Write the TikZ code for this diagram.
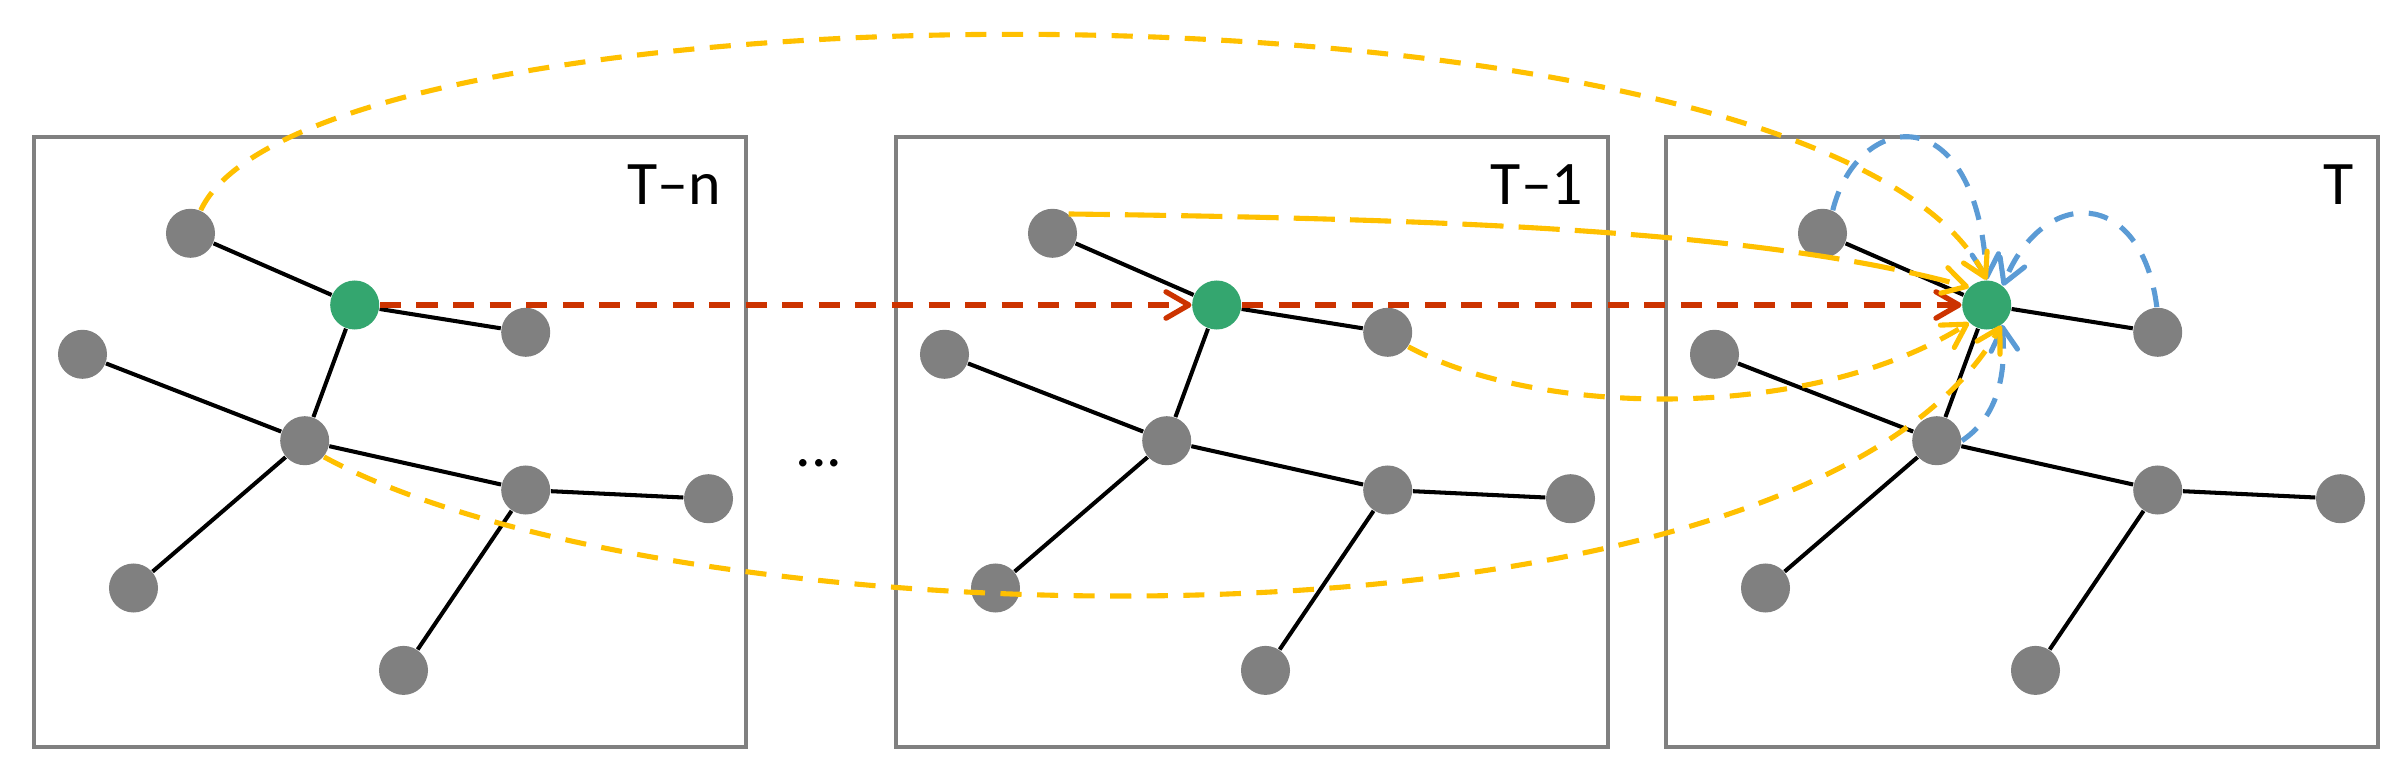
\documentclass[tikz,border=0pt]{standalone}
\usepackage{fontspec}
\setmainfont{Carlito}
\usetikzlibrary{arrows.meta}
\definecolor{ngray}{RGB}{128,128,128}
\definecolor{ngreen}{RGB}{52,166,111}
\definecolor{dred}{RGB}{204,51,0}
\definecolor{dyel}{RGB}{255,192,0}
\definecolor{dblue}{RGB}{91,155,213}
\definecolor{fgray}{RGB}{128,128,128}
\begin{document}
\begin{tikzpicture}[x=0.01cm,y=-0.01cm,
  vert/.style={circle,fill=ngray,minimum size=0.49cm,inner sep=0pt},
  hub/.style={circle,fill=ngreen,minimum size=0.49cm,inner sep=0pt},
  frame/.style={draw=fgray,line width=1.1pt,minimum width=7.115cm,minimum height=6.09cm,inner sep=0pt},
  edge/.style={black,line width=1.15pt},
  lab/.style={font=\fontsize{17.6}{20}\selectfont,inner sep=0pt},
  tipv/.style={-{Straight Barb[length=6.5pt,width=7.5pt,round]}},
  reddash/.style={dred,line width=1.5pt,dash pattern=on 6pt off 4.4pt,tipv},
  yeldash/.style={dyel,line width=1.45pt,dash pattern=on 6pt off 4.4pt,tipv},
  yellong/.style={dyel,line width=1.45pt,dash pattern=on 11.7pt off 4.3pt,tipv},
  bluedash/.style={dblue,line width=1.45pt,dash pattern=on 5.6pt off 4.4pt,tipv},
]
\useasboundingbox (0,0) rectangle (2408,782);
\foreach \k/\dx/\txt in {1/0/{T–n},2/862/{T–1},3/1632/{T}}{
  \node[frame] (box\k) at (\dx+390.25,442) {};
  \node[lab,anchor=base east] (t\k) at (\dx+722,205) {\txt};
  \node[vert] (a\k) at (\dx+190.5,233.3) {};
  \node[hub]  (g\k) at (\dx+354.7,305) {};
  \node[vert] (r\k) at (\dx+525.7,332.3) {};
  \node[vert] (l\k) at (\dx+82.5,354.3) {};
  \node[vert] (c\k) at (\dx+304.7,440.7) {};
  \node[vert] (m\k) at (\dx+525.7,490) {};
  \node[vert] (f\k) at (\dx+708.5,498.7) {};
  \node[vert] (bl\k) at (\dx+133.5,588) {};
  \node[vert] (b\k) at (\dx+403.5,670.4) {};
  \draw[edge] (a\k) -- (g\k);
  \draw[edge] (g\k) -- (r\k);
  \draw[edge] (g\k) -- (c\k);
  \draw[edge] (l\k) -- (c\k);
  \draw[edge] (c\k) -- (m\k);
  \draw[edge] (c\k) -- (bl\k);
  \draw[edge] (m\k) -- (f\k);
  \draw[edge] (m\k) -- (b\k);
}
\node[lab,anchor=base] (dots) at (819,466) {...};
% red temporal links
\draw[reddash] (g1) -- (g2);
\draw[reddash] (g2) -- (g3);
% blue spatial links
\draw[bluedash] (a3.66) .. controls +(25,-100) and +(-10,-185) .. (g3.90);
\draw[bluedash] (r3.92) .. controls +(-15,-120) and +(40,-100) .. (g3.50);
\draw[bluedash] (c3.0) .. controls +(30,-20) and +(5,60) .. (g3.-52);
% yellow spatio-temporal links
\draw[yeldash] (a1.66) .. controls +(112,-240) and +(-160,-319) .. (g3.90);
\draw[yellong] (a2.50) .. controls +(400,5) and +(-200,-55) .. (g3.135);
\draw[yeldash] (r2.-35) .. controls +(130,70) and +(-160,100) .. (g3.-135);
\draw[yeldash] (c1.-40) .. controls +(350,190) and +(-200,350) .. (g3.-55);
\end{tikzpicture}
\end{document}
